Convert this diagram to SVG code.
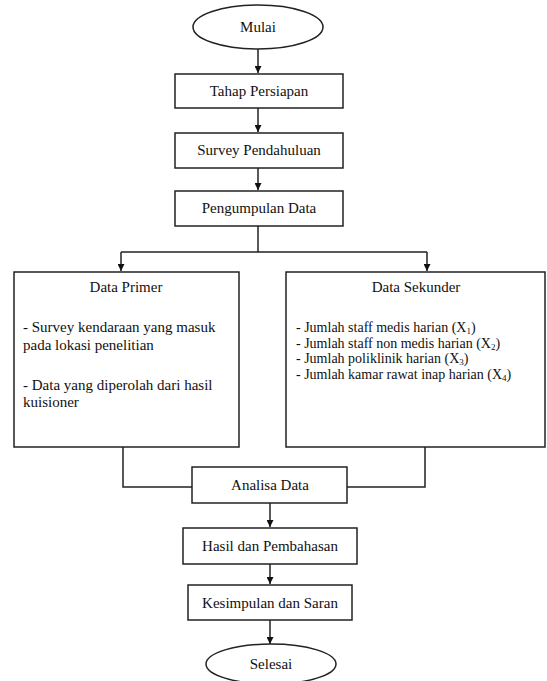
<svg xmlns="http://www.w3.org/2000/svg" width="547" height="681" viewBox="0 0 547 681">
<defs>
<marker id="ah" viewBox="0 0 10 10" refX="10" refY="5" markerWidth="7" markerHeight="7" markerUnits="userSpaceOnUse" orient="auto">
<path d="M0,0 L10,5 L0,10 z" fill="#111"/>
</marker>
</defs>
<style>
.b{fill:#fff;stroke:#222;stroke-width:1.5}
.t{font-size:15px;fill:#111}
.c{text-anchor:middle}
.l{fill:none;stroke:#222;stroke-width:1.5}
.a{marker-end:url(#ah)}
.s{font-size:9px}
.m{font-size:14px}
</style>
<rect width="547" height="681" fill="#fff"/>
<g id="connectors">
<line class="l a" x1="258" y1="49" x2="258" y2="73"/>
<line class="l a" x1="258" y1="108" x2="258" y2="132"/>
<line class="l a" x1="258" y1="168" x2="258" y2="190"/>
<polyline class="l" points="258,226 258,252"/>
<polyline class="l a" points="121,252 121,271"/>
<polyline class="l a" points="427,252 427,271"/>
<line class="l" x1="121" y1="252" x2="427" y2="252"/>
<polyline class="l" points="123,447 123,487 192,487"/>
<polyline class="l" points="425,447 425,487 347,487"/>
<line class="l a" x1="270" y1="503" x2="270" y2="527"/>
<line class="l a" x1="270" y1="564" x2="270" y2="584"/>
<line class="l a" x1="270" y1="620" x2="270" y2="644"/>
</g>
<g font-family="Liberation Serif, Times New Roman, serif">
<g id="mulai">
<ellipse class="b" cx="258" cy="27" rx="65" ry="22"/>
<text class="t c" x="258" y="32">Mulai</text>
</g>
<g id="tahap">
<rect class="b" x="175" y="74" width="168" height="34"/>
<text class="t c" x="259" y="96">Tahap Persiapan</text>
</g>
<g id="survey">
<rect class="b" x="175" y="133" width="168" height="35"/>
<text class="t c" x="259" y="155">Survey Pendahuluan</text>
</g>
<g id="pengumpulan">
<rect class="b" x="175" y="191" width="168" height="35"/>
<text class="t c" x="259" y="213">Pengumpulan Data</text>
</g>
<g id="primer">
<rect class="b" x="14" y="272" width="225" height="175"/>
<text class="t c" x="126" y="292">Data Primer</text>
<text class="t" x="23" y="332">- Survey kendaraan yang masuk</text>
<text class="t" x="23" y="350">pada lokasi penelitian</text>
<text class="t" x="23" y="390">- Data yang diperolah dari hasil</text>
<text class="t" x="23" y="407">kuisioner</text>
</g>
<g id="sekunder">
<rect class="b" x="286" y="272" width="259" height="175"/>
<text class="t c" x="416" y="292">Data Sekunder</text>
<text class="t m" x="296" y="332">- Jumlah staff medis harian (X<tspan class="s" dy="2">1</tspan><tspan dy="-2">)</tspan></text>
<text class="t m" x="296" y="347.5">- Jumlah staff non medis harian (X<tspan class="s" dy="2">2</tspan><tspan dy="-2">)</tspan></text>
<text class="t m" x="296" y="363">- Jumlah poliklinik harian (X<tspan class="s" dy="2">3</tspan><tspan dy="-2">)</tspan></text>
<text class="t m" x="296" y="378.5">- Jumlah kamar rawat inap harian (X<tspan class="s" dy="2">4</tspan><tspan dy="-2">)</tspan></text>
</g>
<g id="analisa">
<rect class="b" x="192" y="467" width="155" height="36"/>
<text class="t c" x="270" y="490">Analisa Data</text>
</g>
<g id="hasil">
<rect class="b" x="183" y="528" width="174" height="36"/>
<text class="t c" x="270" y="551">Hasil dan Pembahasan</text>
</g>
<g id="kesimpulan">
<rect class="b" x="188" y="585" width="164" height="35"/>
<text class="t c" x="270" y="608">Kesimpulan dan Saran</text>
</g>
<g id="selesai">
<ellipse class="b" cx="271" cy="664" rx="65" ry="20"/>
<text class="t c" x="271" y="669">Selesai</text>
</g>
</g>
</svg>
